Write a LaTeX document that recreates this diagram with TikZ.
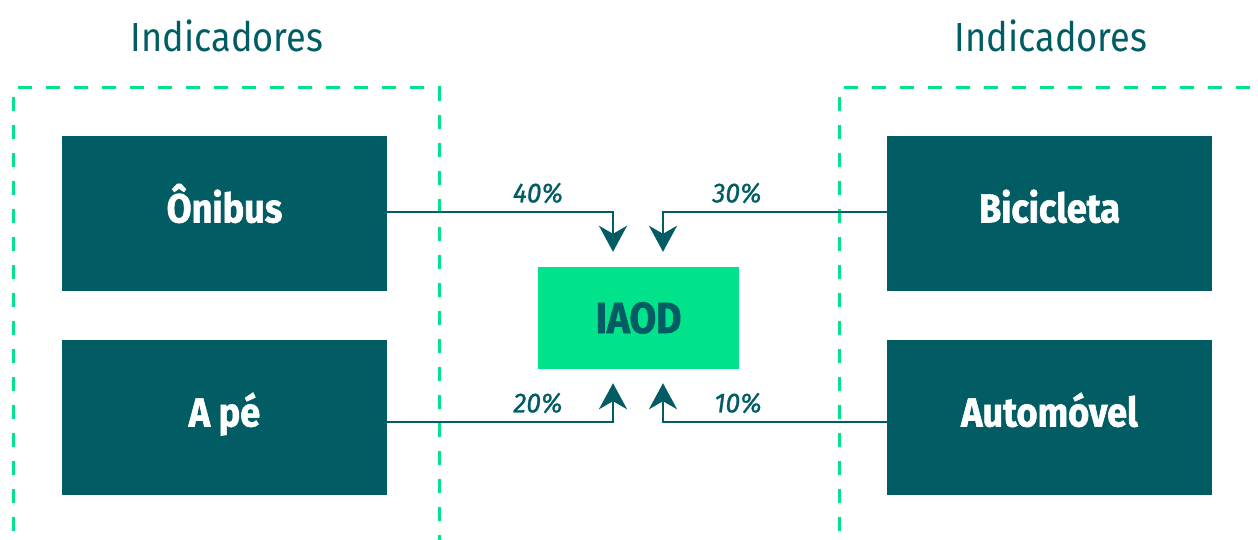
\documentclass[tikz,border=0pt]{standalone}
\usepackage{fontspec}
\setmainfont{Fira Sans}
\newfontfamily\narrowfont{Fira Sans}[FakeStretch=0.89, BoldFeatures={FakeBold=1.5}]
\newfontfamily\weightfont{Fira Sans}[FakeStretch=0.96, ItalicFeatures={FakeBold=0.8}]
\usetikzlibrary{arrows.meta,calc}
\definecolor{teal}{HTML}{025C63}
\definecolor{mint}{HTML}{00E38A}
\tikzset{
  modebox/.style={fill=teal, text=white, minimum width=325pt, minimum height=155pt,
    inner sep=0pt, text height=28pt, text depth=10pt,
    font=\narrowfont\bfseries\fontsize{40.6}{48}\selectfont},
  indexbox/.style={fill=mint, text=teal, minimum width=201pt, minimum height=102pt,
    inner sep=0pt, text height=30pt, text depth=0pt,
    font=\narrowfont\bfseries\fontsize{43.5}{48}\selectfont},
  grouptitle/.style={text=teal, inner sep=0pt, font=\narrowfont\fontsize{40.6}{48}\selectfont},
  weight/.style={text=teal, inner sep=0pt, font=\weightfont\itshape\fontsize{27.5}{32}\selectfont},
  groupframe/.style={draw=mint, line width=3pt, dash pattern=on 14pt off 14pt},
  link/.style={draw=teal, line width=2.7pt, -{Stealth[length=26pt,width=28pt,inset=8pt]}}
}
\begin{document}
\begin{tikzpicture}[x=1pt,y=1pt]
\useasboundingbox (0,0) rectangle (1258,539);
\clip (0,0) rectangle (1258,539);

% indicator groups
\draw[groupframe] (13,-20) -- (13,451) -- (439,451) -- (439,-20);
\draw[groupframe] (839,-20) -- (839,451) -- (1290,451);
\node[grouptitle] (tleft) at (227,503) {Indicadores};
\node[grouptitle] (tright) at (1051,503) {Indicadores};

% transport modes
\node[modebox] (onibus) at (224.5,325.5) {Ônibus};
\node[modebox] (ape) at (224.5,121.5) {A pé};
\node[modebox] (bici) at (1049.5,325.5) {Bicicleta};
\node[modebox] (auto) at (1049.5,121.5) {Automóvel};

% composite index
\node[indexbox] (iaod) at (638.5,221) {IAOD};

% weighted links
\coordinate (inA) at ($(iaod.north)+(-25.5,15)$);
\coordinate (inB) at ($(iaod.north)+(24.5,15)$);
\coordinate (inC) at ($(iaod.south)+(-25.5,-14)$);
\coordinate (inD) at ($(iaod.south)+(24.5,-14)$);
\draw[link] ($(onibus.east)+(0,1.5)$) -| (inA);
\draw[link] ($(bici.west)+(0,1.5)$) -| (inB);
\draw[link] ($(ape.east)+(0,-4.5)$) -| (inC);
\draw[link] ($(auto.west)+(0,-4.5)$) -| (inD);

\node[weight] (w40) at (538,346) {40\%};
\node[weight] (w30) at (737,346) {30\%};
\node[weight] (w20) at (538,136) {20\%};
\node[weight] (w10) at (738,136) {10\%};
\end{tikzpicture}
\end{document}
